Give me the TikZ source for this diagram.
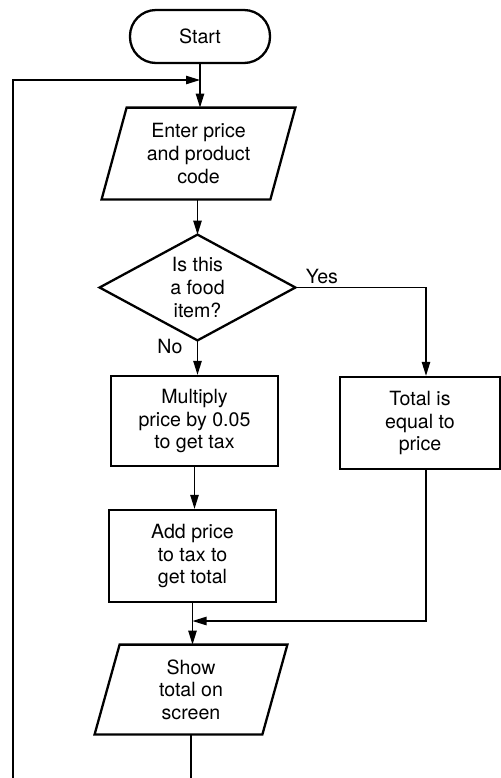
\documentclass[tikz,border=0pt]{standalone}
\usepackage{fontspec}
\setmainfont{TeX Gyre Heros}
\usetikzlibrary{arrows.meta}
\tikzset{
  boxline/.style={line width=1.15pt},
  txt/.style={inner sep=0pt, align=center, font=\fontsize{9.8}{11.3}\selectfont},
  plainbox/.style={txt, draw, boxline, rectangle},
  hidbox/.style={txt, rectangle},
  conn/.style={line width=0.65pt, -{Triangle[length=7pt,width=4.2pt]}},
  line/.style={line width=0.65pt},
  lbl/.style={inner sep=0pt, font=\fontsize{9.8}{11.3}\selectfont}
}
\begin{document}
\begin{tikzpicture}[x=0.5pt,y=-0.5pt]
\useasboundingbox (0,0) rectangle (501,778);

% nodes
\node[plainbox, rounded corners=13pt, minimum width=70pt, minimum height=26.5pt] (start) at (200,36.5) {Start};
\node[hidbox, minimum width=84pt, minimum height=45.5pt] (enter) at (198.5,153.5) {Enter price\\and product\\code};
\node[hidbox, minimum width=97.5pt, minimum height=52.5pt] (dia) at (197.5,287.5) {Is this\\a food\\item?};
\node[plainbox, minimum width=83.5pt, minimum height=45pt] (mult) at (194.5,421) {Multiply\\price by 0.05\\to get tax};
\node[plainbox, minimum width=80pt, minimum height=46pt] (total) at (420,423) {Total is\\equal to\\price};
\node[plainbox, minimum width=83.5pt, minimum height=46pt] (add) at (192.5,556) {Add price\\to tax to\\get total};
\node[hidbox, minimum width=83.5pt, minimum height=44.5pt] (show) at (191,689.5) {Show\\total on\\screen};
\node[lbl] (yes) at (322,276) {Yes};
\node[lbl] (no) at (170,346) {No};

% shapes drawn around hidden nodes
\draw[boxline] ([xshift=6.25pt]enter.north west) -- ([xshift=6.25pt]enter.north east)
  -- ([xshift=-6.25pt]enter.south east) -- ([xshift=-6.25pt]enter.south west) -- cycle;
\draw[boxline] (dia.north) -- (dia.east) -- (dia.south) -- (dia.west) -- cycle;
\draw[boxline] ([xshift=6.25pt]show.north west) -- ([xshift=6.25pt]show.north east)
  -- ([xshift=-6.25pt]show.south east) -- ([xshift=-6.25pt]show.south west) -- cycle;

% coordinates
\coordinate (loopbot) at (13,778);
\coordinate (looptop) at (13,80);
\coordinate (merge) at (192.5,621);
\coordinate (showbot) at (190,778);

% connectors
\draw[conn] (start.south) -- (start.south |- enter.north);
\draw[conn] (loopbot) -- (looptop) -- (start.south |- looptop);
\draw[conn] (dia.north |- enter.south) -- (dia.north);
\draw[conn] (dia.south) -- (dia.south |- mult.north);
\draw[conn] (dia.east) -| ([xshift=3pt]total.north);
\draw[conn] (mult.south) -- (mult.south |- add.north);
\draw[conn] ([xshift=3pt]total.south) |- (merge);
\draw[conn] (add.south) -- (add.south |- show.north);
\draw[line] (show.south) -- (show.south |- showbot);
\end{tikzpicture}
\end{document}
